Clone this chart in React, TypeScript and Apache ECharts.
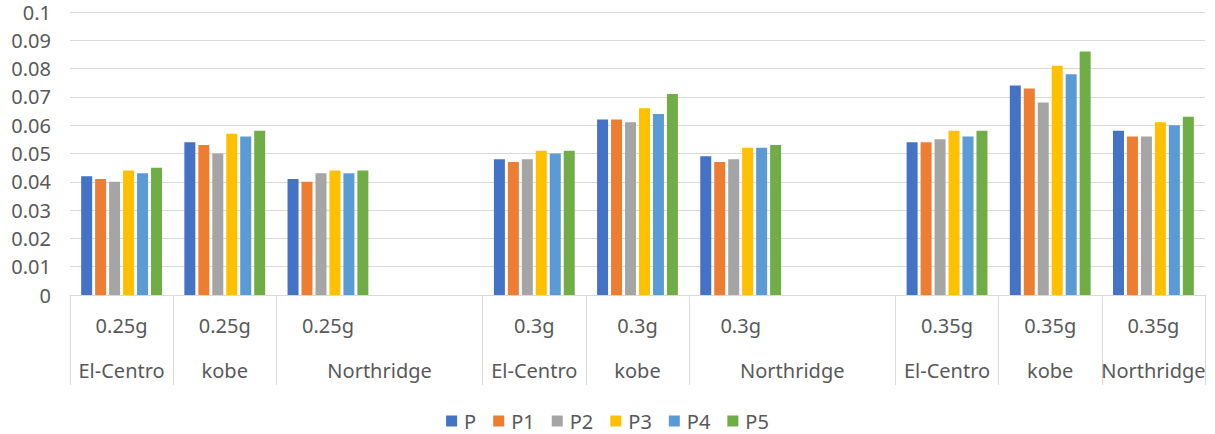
import React, { useEffect, useRef } from "react";
import * as echarts from "echarts";

// Two-level category axis: PGA level (top row) and record (bottom row).
// An empty string after "Northridge" marks the blank column that its merged cell spans.
const pgaLevels = ["0.25g", "0.25g", "0.25g", "", "0.3g", "0.3g", "0.3g", "", "0.35g", "0.35g", "0.35g"];
const records = ["El-Centro", "kobe", "Northridge", "", "El-Centro", "kobe", "Northridge", "", "El-Centro", "kobe", "Northridge"];

const seriesNames = ["P", "P1", "P2", "P3", "P4", "P5"];
const valuesP = [0.042, 0.054, 0.041, null, 0.048, 0.062, 0.049, null, 0.054, 0.074, 0.058];
const valuesP1 = [0.041, 0.053, 0.040, null, 0.047, 0.062, 0.047, null, 0.054, 0.073, 0.056];
const valuesP2 = [0.040, 0.050, 0.043, null, 0.048, 0.061, 0.048, null, 0.055, 0.068, 0.056];
const valuesP3 = [0.044, 0.057, 0.044, null, 0.051, 0.066, 0.052, null, 0.058, 0.081, 0.061];
const valuesP4 = [0.043, 0.056, 0.043, null, 0.050, 0.064, 0.052, null, 0.056, 0.078, 0.060];
const valuesP5 = [0.045, 0.058, 0.044, null, 0.051, 0.071, 0.053, null, 0.058, 0.086, 0.063];
const seriesValues = [valuesP, valuesP1, valuesP2, valuesP3, valuesP4, valuesP5];

const colors = ["#4472C4", "#ED7D31", "#A5A5A5", "#FFC000", "#5B9BD5", "#70AD47"];

const yMin = 0;
const yMax = 0.1;
const yStep = 0.01;

export default function App() {
  const ref = useRef<HTMLDivElement>(null);

  useEffect(() => {
    document.body.style.margin = "0";
    const el = ref.current;
    if (!el) return;
    const chart = echarts.init(el, null, { renderer: "svg" });

    const gridLeft = 70;
    const gridRight = 10;
    const catWidth = (el.clientWidth - gridLeft - gridRight) / pgaLevels.length;
    const textColor = "#595959";
    const font = "Noto Sans";
    const fs = 20;

    const categories = pgaLevels.map((p, i) => `${i}`);

    chart.setOption({
      animation: false,
      color: colors,
      textStyle: { fontFamily: font },
      grid: { left: gridLeft, right: gridRight, top: 12, bottom: 139, containLabel: false },
      legend: {
        data: seriesNames,
        top: 406,
        left: "center",
        icon: "rect",
        itemWidth: 11,
        itemHeight: 11,
        itemGap: 17,
        textStyle: { fontSize: fs, color: textColor, fontFamily: font, padding: [0, 0, 0, 2] },
      },
      xAxis: {
        type: "category",
        data: categories,
        axisLine: { show: true, lineStyle: { color: "#d9d9d9", width: 1 } },
        axisTick: {
          show: true,
          length: 90,
          lineStyle: { color: "#d9d9d9", width: 1 },
          interval: (i: number) => !(pgaLevels[i] === "" && records[i] === ""),
        },
        splitLine: { show: false },
        axisLabel: {
          interval: 0,
          margin: 8,
          formatter: (_v: string, i: number) => {
            const top = pgaLevels[i];
            const bottom = records[i];
            if (!top && !bottom) return "";
            const spans = i + 1 < records.length && records[i + 1] === "" && pgaLevels[i + 1] === "";
            return `{a|${top}}\n{${spans ? "c" : "b"}|${bottom}}`;
          },
          rich: {
            a: { fontSize: fs, lineHeight: 44, color: textColor, fontFamily: font },
            b: { fontSize: fs, lineHeight: 46, color: textColor, fontFamily: font },
            c: { fontSize: fs, lineHeight: 46, color: textColor, fontFamily: font, padding: [0, 0, 0, catWidth] },
          },
        },
      },
      yAxis: {
        type: "value",
        min: yMin,
        max: yMax,
        interval: yStep,
        axisLine: { show: false },
        axisTick: { show: false },
        splitLine: { lineStyle: { color: "#d9d9d9", width: 1 } },
        axisLabel: {
          margin: 19,
          fontSize: fs,
          color: textColor,
          fontFamily: font,
          formatter: (v: number) => String(Number(v.toFixed(2))),
        },
      },
      series: seriesNames.map((name, k) => ({
        name,
        type: "bar",
        data: seriesValues[k],
        barWidth: 11,
        barGap: "27%",
        itemStyle: { color: colors[k] },
      })),
    });

    return () => chart.dispose();
  }, []);

  return <div ref={ref} style={{ width: 1215, height: 434 }} />;
}
